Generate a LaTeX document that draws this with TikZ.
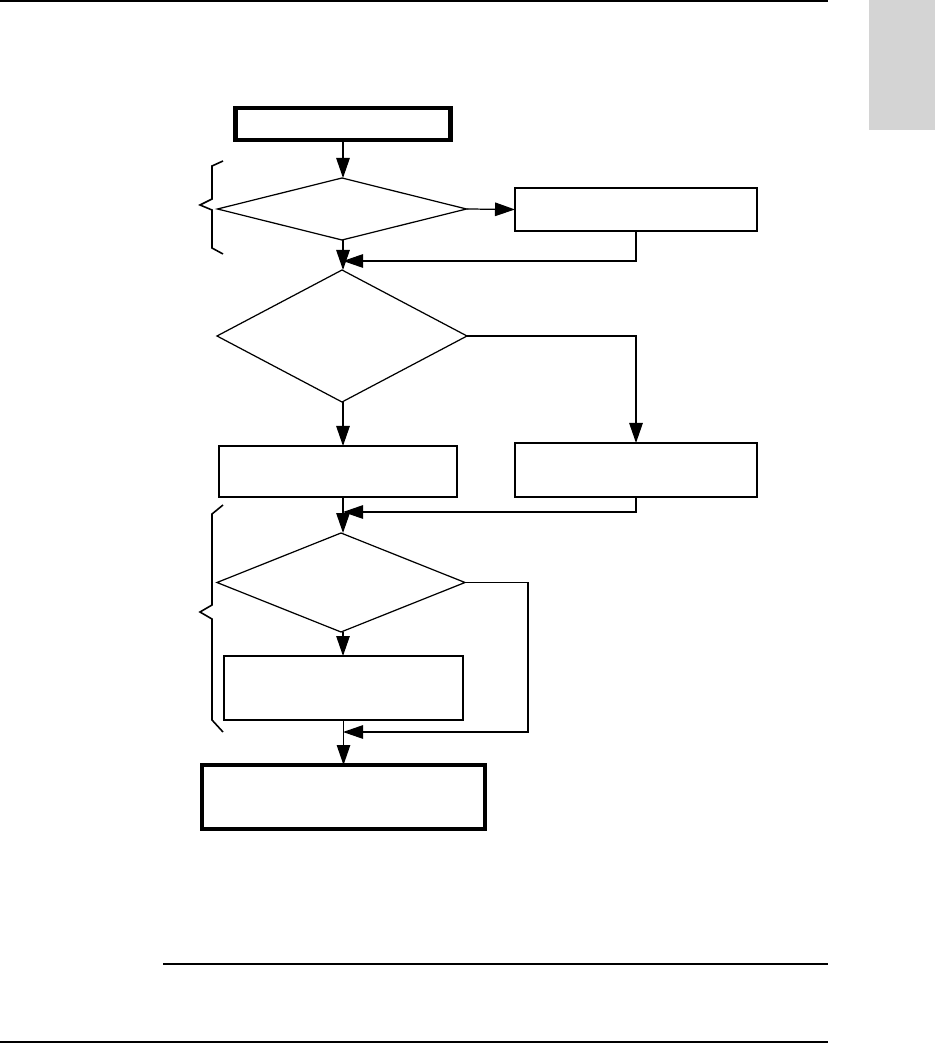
\documentclass[tikz,border=0pt]{standalone}
\usetikzlibrary{arrows.meta,shapes.geometric}
\definecolor{tabgray}{gray}{0.83}
\begin{document}
\begin{tikzpicture}[x=0.2mm, y=-0.2mm, line width=0.7pt,
  box/.style={draw,rectangle,inner sep=0pt,outer sep=0pt},
  endbox/.style={box,line width=2.3pt},
  test/.style={draw,diamond,inner sep=0pt,outer sep=0pt},
  flow/.style={-{Triangle[length=4mm,width=2.7mm]}}]
\useasboundingbox (0,0) rectangle (935,1044);
% page rules and thumb tab
\fill[tabgray] (869,0) rectangle (935,130);
\draw[line width=1.2pt] (0,1) -- (828,1);
\draw (163,964) -- (828,964);
\draw[line width=1.2pt] (0,1042) -- (828,1042);
% flow chart
\node[endbox,minimum width=43mm,minimum height=6.4mm] (start) at (343,124) {};
\node[test,minimum width=49.8mm,minimum height=12.4mm] (dec1) at (342,209) {};
\node[box,minimum width=48.4mm,minimum height=8.6mm] (boxA) at (636,209.5) {};
\node[test,minimum width=50mm,minimum height=26.4mm] (dec2) at (342,336) {};
\node[box,minimum width=47.6mm,minimum height=10.2mm] (boxB) at (338,471.5) {};
\node[box,minimum width=48.4mm,minimum height=10.8mm] (boxC) at (636,470) {};
\node[test,minimum width=49.6mm,minimum height=19.8mm] (dec3) at (341,582.5) {};
\node[box,minimum width=47.8mm,minimum height=12.8mm] (boxD) at (343.5,688) {};
\node[endbox,minimum width=56.6mm,minimum height=12.8mm] (final) at (343.5,797) {};
\coordinate (m1) at (343,261); \coordinate (m2) at (343,512); \coordinate (m3) at (343,732);
\draw[flow] (start.south) -- (start.south |- dec1.north);
\draw[flow] (dec1.east) -- (boxA.west);
\draw[flow] (boxA.south) |- (m1);
\draw[flow] (start.south |- dec1.south) -- (start.south |- dec2.north);
\draw[flow] (dec2.east) -| (boxC.north);
\draw[flow] (start.south |- dec2.south) -- (start.south |- boxB.north);
\draw[flow] (boxC.south) |- (m2);
\draw[flow] (start.south |- boxB.south) -- (start.south |- dec3.north);
\draw[flow] (dec3.east) -- ++(63,0) |- (m3);
\draw[flow] (start.south |- dec3.south) -- (start.south |- boxD.north);
\draw[flow] (boxD.south) -- (final.north);
% braces
\draw[line width=0.9pt] (223,161) -- (212,166) -- (212,199) -- (200,205) -- (212,210) -- (212,248) -- (223,254);
\draw[line width=0.9pt] (223,505) -- (212,514) -- (212,605) -- (200,612) -- (212,619) -- (212,720) -- (223,732);
\end{tikzpicture}
\end{document}
